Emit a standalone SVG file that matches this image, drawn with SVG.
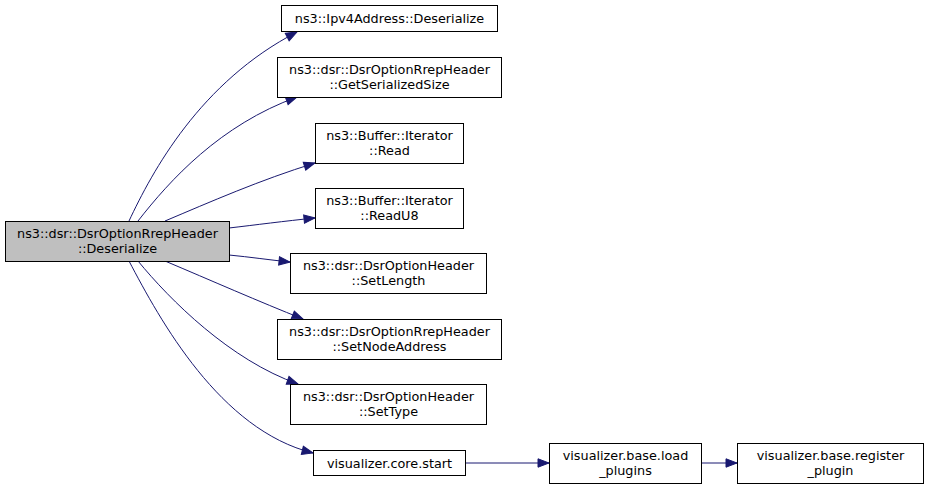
<svg xmlns="http://www.w3.org/2000/svg" width="928" height="488" viewBox="0 0 928 488">
<defs>
<marker id="ah" markerUnits="userSpaceOnUse" markerWidth="14" markerHeight="12" refX="12" refY="6" orient="auto">
<path d="M1,1.8 L12,6 L1,10.2 Z" fill="#191970" stroke="#191970" stroke-width="1"/>
</marker>
<style>
.n rect{fill:#fff;stroke:#000;stroke-width:1}
.n.m rect{fill:#bfbfbf}
.n text{font-family:"DejaVu Sans",sans-serif;font-size:12.8px;text-anchor:middle;fill:#000}
.e path{fill:none;stroke:#191970;stroke-width:1;marker-end:url(#ah)}
</style>
</defs>
<rect width="928" height="488" fill="#fff"/>
<g id="edges" class="e">
<path d="M129,221 C152,172 200,82 297,32"/>
<path d="M138,221 C170,180 220,125 297,97"/>
<path d="M165,221 C210,202 260,180 315,163"/>
<path d="M229,228 C255,225 285,221 315,218"/>
<path d="M229,255 C250,257 270,260 290,262"/>
<path d="M165,261 C210,280 260,302 303,319"/>
<path d="M138,261 C170,300 230,360 298,384"/>
<path d="M129,261 C160,320 220,430 313,453"/>
<path d="M465,463 L549,463"/>
<path d="M701,463 L737,463"/>
</g>
<g id="n0" class="n m"><rect x="5.5" y="221.5" width="224" height="40"/><text x="117.5" y="237.5">ns3::dsr::DsrOptionRrepHeader</text><text x="117.5" y="252.5">::Deserialize</text></g>
<g id="n1" class="n"><rect x="281.5" y="5.5" width="216" height="26"/><text x="389.5" y="22.5">ns3::Ipv4Address::Deserialize</text></g>
<g id="n2" class="n"><rect x="277.5" y="57.5" width="224" height="40"/><text x="389.5" y="73.5">ns3::dsr::DsrOptionRrepHeader</text><text x="389.5" y="88.5">::GetSerializedSize</text></g>
<g id="n3" class="n"><rect x="315.5" y="123.5" width="148" height="40"/><text x="389.5" y="139.5">ns3::Buffer::Iterator</text><text x="389.5" y="154.5">::Read</text></g>
<g id="n4" class="n"><rect x="315.5" y="188.5" width="148" height="40"/><text x="389.5" y="204.5">ns3::Buffer::Iterator</text><text x="389.5" y="219.5">::ReadU8</text></g>
<g id="n5" class="n"><rect x="290.5" y="253.5" width="196" height="40"/><text x="388.5" y="269.5">ns3::dsr::DsrOptionHeader</text><text x="388.5" y="284.5">::SetLength</text></g>
<g id="n6" class="n"><rect x="277.5" y="319.5" width="224" height="40"/><text x="389.5" y="335.5">ns3::dsr::DsrOptionRrepHeader</text><text x="389.5" y="350.5">::SetNodeAddress</text></g>
<g id="n7" class="n"><rect x="290.5" y="384.5" width="196" height="40"/><text x="388.5" y="400.5">ns3::dsr::DsrOptionHeader</text><text x="388.5" y="415.5">::SetType</text></g>
<g id="n8" class="n"><rect x="313.5" y="450.5" width="152" height="25"/><text x="389.5" y="467.5">visualizer.core.start</text></g>
<g id="n9" class="n"><rect x="549.5" y="443.5" width="152" height="40"/><text x="625.5" y="459.5">visualizer.base.load</text><text x="625.5" y="474.5">_plugins</text></g>
<g id="n10" class="n"><rect x="737.5" y="443.5" width="186" height="40"/><text x="830.5" y="459.5">visualizer.base.register</text><text x="830.5" y="474.5">_plugin</text></g>
</svg>
